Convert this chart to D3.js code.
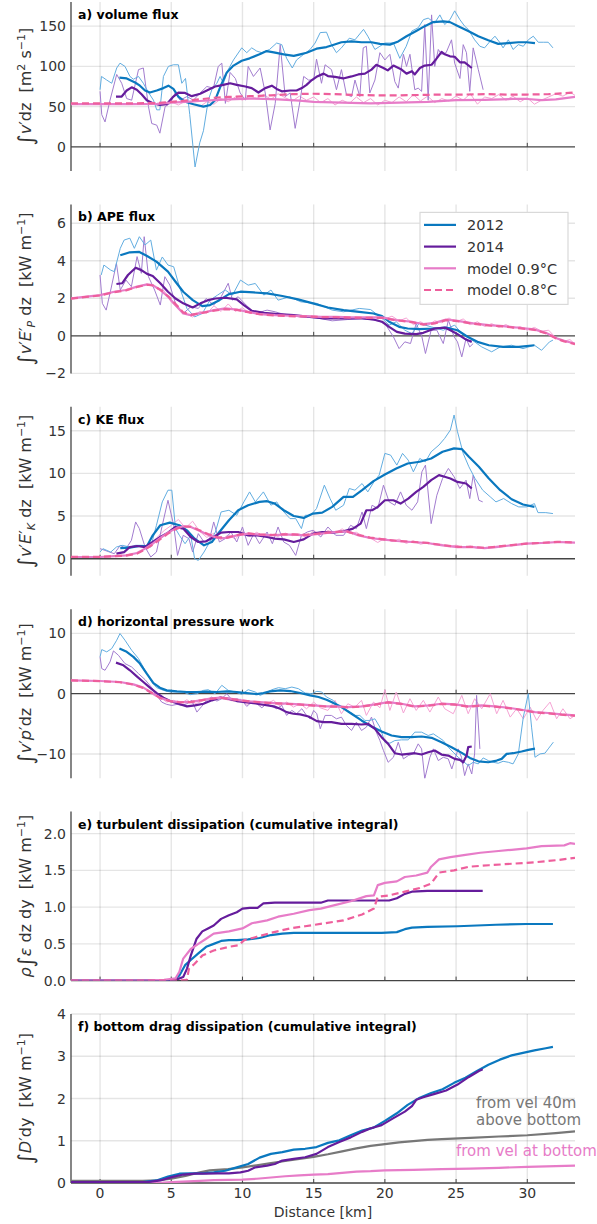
<!DOCTYPE html>
<html>
<head>
<meta charset="utf-8">
<script src="https://cdn.jsdelivr.net/npm/d3@7"></script>
<style>
  html, body { margin: 0; padding: 0; background: #fff; }
  svg { display: block; font-family: "DejaVu Sans", sans-serif; }
</style>
</head>
<body>
<div id="chart"></div>
<script>
// ---- data: [distance km, value] ----

// a) volume flux
var a2012 = [[1.36,86],[1.87,85],[2.46,80],[2.8,76],[3.16,70],[3.5,67.5],[3.98,70],[4.45,73],[4.8,76],[5.15,72],[5.5,62.5],[5.97,56],[6.56,53],[7.26,50],[7.73,52],[8.08,58],[8.43,74],[8.9,92.5],[9.37,101],[9.95,107],[10.5,110],[11.2,115],[11.7,119],[12.2,117.5],[12.9,115],[13.6,113],[14.05,115],[14.5,117],[15.2,122],[15.9,124],[16.25,126],[16.95,130],[17.66,131],[18.36,130],[19.06,130],[19.65,128],[20.35,127],[20.94,131],[21.52,137.5],[22.2,144],[22.8,150],[23.4,155],[24.1,156],[24.57,155],[25.15,150],[25.85,144],[26.56,137.5],[27.26,132.5],[27.96,128],[28.67,129],[29.37,130],[29.95,130],[30.54,129]];
var a2012raw = [[0,71],[0.1,87.5],[0.47,83],[0.82,79],[1.17,98],[1.4,104],[1.75,100],[2.1,87.5],[2.34,84],[2.7,87.5],[3.04,79],[3.4,67.5],[3.75,58],[3.98,46],[4.2,46],[4.45,87.5],[4.8,100],[5.15,102],[5.5,102],[5.74,79],[6.0,85],[6.3,40],[6.67,-25],[7.0,5],[7.26,20],[7.6,58],[7.85,71],[8.2,79],[8.43,87.5],[8.66,79],[9.0,96],[9.37,108],[9.95,123],[10.3,117],[10.65,123],[11,119],[11.36,117],[11.9,121],[12.4,129],[12.76,127],[13.1,110],[13.5,98],[13.8,108],[14.3,115],[14.75,121],[15.1,129],[15.46,142],[15.9,142.5],[16.25,127],[16.6,117],[16.95,123],[17.5,135],[17.9,133],[18.5,146],[18.8,137.5],[19.3,121],[19.65,125],[20,129],[20.6,129],[21.05,110],[21.5,125],[21.9,144],[22.34,148],[22.7,158],[23.04,160],[23.5,154],[23.86,164],[24.2,152],[24.57,158],[24.9,169],[25.27,158],[25.6,150],[25.85,146],[26.3,133],[26.67,125],[27,123],[27.38,131],[27.73,137.5],[28.1,129],[28.3,123],[28.67,133],[29,121],[29.37,127],[29.72,125],[30.07,133],[30.42,137.5],[30.77,130],[31.12,130],[31.47,130],[31.8,123]];
var a2014 = [[1.12,62.5],[1.52,62.5],[1.87,70],[2.22,74],[2.58,71],[2.93,65],[3.28,58],[3.75,54],[4.2,52],[4.68,53],[5.15,62.5],[5.5,67.5],[5.97,67],[6.44,63],[7.03,66],[7.5,70],[8.08,75],[8.66,77],[9.13,79],[9.6,77],[10.2,75],[10.65,73],[11.12,67.5],[11.6,73],[12.06,76],[12.4,72],[12.76,69],[13.35,70],[13.8,70],[14.17,73],[14.5,77],[14.87,83],[15.2,87],[15.7,91],[16.0,88],[16.5,87],[17.07,85],[17.66,87.5],[18.13,90],[18.6,91],[19.06,96],[19.4,102],[19.9,98],[20.2,95],[20.6,101],[21.17,96],[21.52,91],[21.9,94],[22.1,90],[22.46,98],[22.8,101],[23.28,102],[23.6,109],[23.98,118],[24.2,115],[24.57,112.5],[24.9,112],[25.27,105],[25.6,105],[26.1,98]];
var a2014raw = [[0,69],[0.12,40],[0.35,31],[0.7,58],[1.17,90],[1.52,79],[1.87,60],[2.22,58],[2.7,96],[3.04,98],[3.4,50],[3.63,29],[3.98,27],[4.2,17],[4.57,50],[4.92,54],[5.27,67],[5.62,58],[6.1,62.5],[6.56,58],[7.03,67],[7.5,75],[7.96,73],[8.3,100],[8.55,104],[8.8,54],[9.13,92.5],[9.5,85],[9.84,67],[10.2,58],[10.4,100],[10.77,87.5],[11.24,98],[11.6,67],[11.94,21],[12.3,54],[12.65,127],[13,62.5],[13.35,67],[13.7,23],[14.05,58],[14.3,87.5],[14.64,83],[15,83],[15.2,109],[15.55,79],[15.8,102],[16.25,96],[16.6,71],[16.95,96],[17.3,65],[17.66,62.5],[17.9,83],[18.24,62.5],[18.48,123],[18.7,125],[18.94,67],[19.3,83],[19.65,117],[20,108],[20.35,115],[20.7,81],[20.94,73],[21.3,115],[21.52,100],[21.76,115],[22.1,71],[22.34,73],[22.58,69],[22.8,152],[23.04,58],[23.28,164],[23.5,100],[23.75,121],[23.98,115],[24.3,117],[24.68,133],[24.9,104],[25.27,85],[25.5,127],[25.73,117],[25.96,69],[26.2,123],[26.56,96],[26.9,71]];
var aModel09 = [[-2.04,53],[0,53],[2,53],[4,53.5],[5,55],[6,56],[7,57],[8,58],[9,59],[10.5,60],[11.5,59.5],[12.5,59],[14,57.5],[15,56],[17,55],[19,54],[21,55],[23,56],[25,58],[27,58.5],[29,59.5],[30,59.5],[31,58],[32,59],[33.35,62]];
var aModel08 = [[-2.04,54],[0,54],[2,54],[4,54.5],[5,56],[6,57.5],[7,59],[8,61],[9,62],[10.5,63],[12,64],[13.5,65.5],[15,66],[16.5,65.5],[18,64.5],[19.5,64],[21,64],[22.5,64.5],[24,65],[25.5,65],[27,65.5],[28.5,65],[30,65],[31.5,65.5],[32.5,66.5],[33.35,67.5]];
var aModelRaw = [[4,53],[5,56],[5.5,52],[6,57],[6.5,54],[7,50],[7.5,56],[8,53],[8.5,60],[9,56],[9.5,62],[10,58],[10.5,63],[11,60],[11.5,65],[12,59],[12.5,66],[13,61],[13.5,57],[14,63],[14.5,58],[15,62],[15.5,55],[16,60],[16.5,52],[17,58],[17.5,54],[18,62],[18.5,55],[19,60],[19.5,52],[20,58],[20.5,55],[21,62],[21.5,56],[22,65],[22.5,57],[23,63],[23.5,55],[24,60],[24.5,57],[25,63],[25.5,58],[26,66],[26.5,53],[27,62],[27.5,60],[28,65],[28.5,58],[29,63],[29.5,56],[30,61],[30.5,53],[31,58],[31.5,62],[32,66],[32.5,63],[33,68],[33.35,64]];

// b) APE flux
var b2012 = [[1.42,4.29],[2.09,4.45],[2.76,4.47],[3.3,4.25],[3.96,3.95],[4.77,3.42],[5.3,2.88],[5.84,2.35],[6.51,1.9],[7.18,1.58],[7.72,1.64],[8.38,1.9],[9.05,2.22],[9.86,2.35],[10.8,2.31],[11.73,2.26],[12.8,2.12],[13.9,1.94],[14.95,1.73],[16.0,1.51],[17.1,1.37],[18.2,1.28],[19.2,1.19],[19.8,1.05],[20.3,0.75],[21.0,0.48],[21.6,0.39],[22.4,0.36],[23.5,0.39],[24.3,0.44],[25.1,0.3],[25.8,-0.05],[26.5,-0.32],[27.3,-0.5],[28.3,-0.59],[29.4,-0.59],[30.5,-0.5]];
var b2012raw = [[0.08,3.24],[0.27,3.77],[0.75,3.5],[1.0,3.42],[1.42,4.66],[1.69,5.1],[2.09,5.2],[2.41,4.66],[2.76,5.28],[3.16,4.84],[3.56,5.1],[3.96,3.5],[4.37,4.2],[4.77,3.77],[5.17,3.68],[5.57,2.62],[6.1,1.46],[6.64,1.01],[7.18,1.19],[7.72,1.9],[8.25,2.17],[8.79,2.44],[9.3,2.17],[9.86,2.97],[10.4,2.7],[10.9,2.79],[11.5,2.17],[12.0,2.44],[12.5,1.9],[13.3,2.08],[14.1,1.81],[15.2,1.73],[16.3,1.37],[17.1,1.28],[18.2,1.46],[19.0,1.4],[19.8,0.93],[20.3,0.57],[20.8,0.75],[21.4,0.3],[21.9,0.12],[22.4,0.66],[23.25,0.48],[24.1,0.3],[24.9,0.57],[25.4,0.12],[25.96,-0.14],[26.8,-0.59],[27.5,-0.85],[28.1,-0.59],[28.9,-0.5],[29.7,-0.68],[30.5,-0.5],[31.0,-0.77],[31.56,-0.32],[31.8,-0.23]];
var b2014 = [[1.15,2.76],[1.55,2.8],[1.96,3.24],[2.5,3.63],[2.9,3.5],[3.3,3.3],[3.7,3.19],[4.23,2.8],[4.77,2.35],[5.3,1.99],[5.84,1.73],[6.5,1.51],[7.05,1.73],[7.58,1.9],[8.1,1.99],[8.8,2.03],[9.6,1.94],[10.1,1.64],[10.66,1.33],[11.5,1.23],[12.5,1.16],[13.6,1.1],[14.7,1.01],[15.75,0.93],[17.1,0.93],[18.4,0.93],[19.2,0.87],[19.8,0.75],[20.3,0.48],[20.84,0.21],[21.4,0.12],[22.2,0.09],[22.7,0.16],[23.5,0.39],[24.2,0.44],[24.6,0.3],[25.1,0.09],[25.7,-0.2],[26.1,-0.32]];
var b2014raw = [[0,3.24],[0.16,1.73],[0.43,1.37],[0.75,2.44],[1.15,3.86],[1.42,2.44],[1.82,2.97],[2.2,2.62],[2.6,4.22],[2.9,3.33],[3.1,5.28],[3.4,3.15],[3.83,2.44],[4.23,1.64],[4.55,3.15],[4.9,2.7],[5.3,1.73],[5.84,1.19],[6.37,1.55],[6.9,1.46],[7.45,1.99],[7.98,1.64],[8.5,2.08],[9.0,2.8],[9.3,1.9],[9.7,2.08],[10.26,1.64],[10.9,1.19],[11.73,1.37],[12.3,1.28],[13.1,1.1],[14.1,1.01],[15.2,0.96],[16.3,0.8],[17.4,0.87],[18.4,0.93],[19.5,0.8],[20.0,0.66],[20.6,-0.05],[21.0,-0.68],[21.4,-0.32],[21.8,-0.41],[22.2,0.66],[22.6,-0.05],[22.85,-0.94],[23.25,0.3],[23.65,0.3],[24.1,-0.41],[24.46,0.84],[24.86,-0.05],[25.1,-0.32],[25.4,-1.12],[25.7,-0.14],[25.96,-0.59],[26.2,-0.41]];
var bModel09 = [[-2.04,1.99],[0,2.17],[1.0,2.35],[1.82,2.44],[2.6,2.62],[3.3,2.74],[3.7,2.7],[4.23,2.44],[4.77,2.08],[5.3,1.64],[5.84,1.19],[6.37,1.1],[7.18,1.23],[8.0,1.37],[8.8,1.46],[9.6,1.4],[10.4,1.28],[11.2,1.16],[12.3,1.1],[13.3,1.07],[14.4,1.05],[15.5,1.01],[16.6,1.01],[17.6,0.98],[18.7,0.98],[19.8,0.98],[20.8,0.84],[21.9,0.75],[22.7,0.62],[23.5,0.69],[24.3,0.87],[25.1,0.8],[26.2,0.66],[27.3,0.57],[28.3,0.52],[29.4,0.43],[30.5,0.34],[31.3,0.16],[32.1,-0.14],[32.6,-0.27],[33.35,-0.41]];
var bModel08 = [[-2.04,1.98],[0,2.15],[1.0,2.33],[1.82,2.42],[2.6,2.6],[3.3,2.72],[3.7,2.68],[4.23,2.46],[4.77,2.12],[5.3,1.7],[5.84,1.25],[6.37,1.12],[7.18,1.22],[8.0,1.34],[8.8,1.42],[9.6,1.38],[10.4,1.26],[11.2,1.15],[12.3,1.08],[13.3,1.05],[14.4,1.03],[15.5,1.0],[16.6,0.99],[17.6,0.97],[18.7,0.96],[19.8,0.95],[20.8,0.83],[21.9,0.73],[22.7,0.6],[23.5,0.66],[24.3,0.84],[25.1,0.78],[26.2,0.64],[27.3,0.55],[28.3,0.5],[29.4,0.41],[30.5,0.32],[31.3,0.14],[32.1,-0.16],[32.6,-0.3],[33.35,-0.44]];
var bModelRaw = [[4,2.5],[4.5,2.4],[5,1.8],[5.5,1.4],[6,1.2],[6.5,1.0],[7,1.3],[7.5,1.2],[8,1.6],[8.5,1.3],[9,1.7],[9.5,1.3],[10,1.5],[10.5,1.2],[11,1.3],[12,1.1],[13,1.15],[14,1.0],[15,1.05],[16,0.95],[17,1.0],[18,0.95],[19,1.0],[20,0.9],[20.5,1.05],[21,0.8],[21.5,0.95],[22,0.6],[22.5,0.75],[23,0.55],[23.5,0.8],[24,0.7],[24.5,0.95],[25,0.75],[25.5,0.9],[26,0.6],[26.5,0.75],[27,0.5],[27.5,0.65],[28,0.45],[28.5,0.6],[29,0.4],[29.5,0.5],[30,0.3],[30.5,0.45],[31,0.25],[31.5,0.3],[32,-0.1],[32.5,-0.3],[33,-0.2],[33.35,-0.45]];

// c) KE flux
var c2012 = [[1.42,1.25],[2.09,1.29],[2.76,1.49],[3.3,1.49],[3.7,2.74],[4.23,3.92],[4.9,4.23],[5.57,3.92],[6.1,3.33],[6.64,2.35],[7.3,1.57],[7.85,1.96],[8.38,3.13],[9.05,4.5],[9.7,5.68],[10.4,6.27],[11.2,6.66],[11.73,6.74],[12.27,6.46],[12.9,5.68],[13.6,5.01],[14.3,4.78],[14.95,5.29],[15.6,5.4],[16.3,6.07],[17.1,7.25],[17.76,7.25],[18.4,8.03],[19.2,9.09],[20.0,9.87],[20.8,10.58],[21.6,11.16],[22.45,11.36],[23.25,11.75],[24.05,12.53],[24.86,12.93],[25.4,12.85],[25.9,11.95],[26.6,10.77],[27.3,9.4],[28.1,8.03],[28.9,6.97],[29.7,6.35],[30.5,6.07]];
var c2012raw = [[0,0.78],[0.2,1.18],[0.75,0.78],[1.15,1.37],[1.55,1.57],[2.09,1.37],[2.5,1.57],[3.0,1.57],[3.56,1.37],[3.96,3.92],[4.37,6.66],[4.77,8.03],[5.04,8.03],[5.3,3.53],[5.57,2.74],[5.97,1.76],[6.37,2.74],[6.64,0],[6.9,-0.2],[7.3,0.78],[7.7,1.96],[8.1,3.13],[8.5,5.48],[9.05,5.68],[9.6,5.09],[10.1,6.66],[10.5,7.83],[10.9,6.66],[11.47,7.83],[12.0,6.27],[12.4,6.66],[12.8,5.68],[13.34,4.7],[13.74,4.7],[14.14,3.53],[14.4,5.09],[14.8,5.09],[15.2,5.88],[15.75,8.62],[16.15,7.05],[16.55,5.68],[17.1,6.27],[17.5,8.23],[17.9,8.03],[18.4,8.81],[18.8,7.83],[19.23,9.0],[19.6,9.8],[20.0,12.34],[20.4,12.14],[20.84,10.97],[21.24,12.34],[21.64,11.55],[22.0,10.18],[22.45,11.75],[22.85,11.36],[23.25,12.53],[23.8,13.32],[24.2,14.1],[24.6,15.08],[24.86,16.84],[25.1,14.88],[25.5,12.34],[25.9,10.77],[26.33,9.4],[26.87,8.03],[27.4,7.25],[27.8,6.66],[28.34,7.05],[28.9,6.46],[29.4,6.07],[29.95,6.07],[30.5,6.46],[30.75,5.4],[31.3,5.4],[31.8,5.29]];
var c2014 = [[1.15,0.59],[1.69,0.78],[2.09,1.37],[2.6,1.49],[3.16,1.37],[3.7,1.96],[4.23,2.55],[4.77,3.06],[5.3,3.72],[5.84,3.53],[6.37,2.55],[6.9,1.96],[7.45,2.04],[7.98,2.55],[8.5,3.06],[9.05,3.13],[9.7,3.13],[10.4,2.74],[11.06,2.74],[11.73,2.55],[12.27,2.35],[12.9,2.27],[13.6,1.96],[14.3,2.27],[14.95,2.94],[15.6,3.13],[16.3,3.06],[17.1,3.21],[17.76,3.53],[18.3,4.11],[18.7,5.68],[19.1,5.68],[19.5,6.07],[20.0,6.85],[20.6,6.85],[21.1,6.46],[21.64,7.05],[22.2,7.83],[22.7,8.42],[23.25,9.2],[23.8,9.8],[24.2,9.6],[24.6,9.4],[25.1,9.0],[25.7,8.81],[26.1,8.23]];
var c2014raw = [[0,1.18],[1.0,0.59],[1.42,1.57],[1.82,1.18],[2.2,2.15],[2.5,4.31],[2.76,3.53],[3.16,1.37],[3.56,0.2],[3.96,0.78],[4.37,3.92],[4.77,6.85],[5.17,3.92],[5.44,0.39],[5.84,2.74],[6.24,2.35],[6.5,0.78],[6.9,2.94],[7.3,1.96],[7.7,2.35],[7.98,4.31],[8.38,1.96],[8.79,2.35],[9.19,3.13],[9.6,1.96],[10.0,3.72],[10.4,1.57],[10.8,2.94],[11.2,1.76],[11.73,3.13],[12.1,1.76],[12.5,3.72],[12.9,1.96],[13.3,1.57],[13.74,0.39],[14.14,2.74],[14.55,3.13],[14.95,3.33],[15.5,2.55],[16.0,3.72],[16.55,2.74],[17.1,2.74],[17.6,3.92],[18.0,3.53],[18.4,5.48],[18.7,3.53],[19.1,6.27],[19.5,5.88],[19.9,8.62],[20.3,6.66],[20.7,6.27],[21.1,7.83],[21.5,6.27],[21.9,5.68],[22.3,6.66],[22.6,10.18],[22.85,10.97],[23.25,4.11],[23.65,7.44],[24.05,9.4],[24.46,10.58],[24.86,9.6],[25.26,8.23],[25.7,9.2],[25.96,7.05],[26.2,9.8],[26.6,6.85],[26.87,6.66]];
var cModel09 = [[-2.04,0.2],[0,0.2],[1.0,0.31],[1.82,0.39],[2.6,0.67],[3.16,1.18],[3.7,1.76],[4.23,2.43],[4.77,3.06],[5.3,3.53],[5.84,3.8],[6.37,3.72],[6.9,3.33],[7.58,2.82],[8.25,2.43],[8.92,2.43],[9.6,2.74],[10.4,2.94],[11.2,2.82],[12.0,2.74],[12.8,2.82],[13.6,2.82],[14.4,2.74],[15.5,2.94],[16.55,3.13],[17.36,3.21],[18.16,2.74],[18.97,2.43],[19.77,2.27],[20.84,2.08],[21.9,1.96],[22.98,1.84],[24.05,1.57],[25.1,1.37],[26.2,1.37],[27.0,1.25],[27.8,1.37],[28.9,1.57],[29.95,1.76],[31.0,1.84],[32.1,1.96],[33.35,1.88]];
var cModel08 = [[-2.04,0.22],[0,0.22],[1.0,0.3],[1.82,0.36],[2.6,0.6],[3.16,1.08],[3.7,1.65],[4.23,2.3],[4.77,2.95],[5.3,3.45],[5.84,3.78],[6.37,3.75],[6.9,3.4],[7.58,2.9],[8.25,2.5],[8.92,2.48],[9.6,2.78],[10.4,2.96],[11.2,2.85],[12.0,2.78],[12.8,2.85],[13.6,2.86],[14.4,2.8],[15.5,2.98],[16.55,3.15],[17.36,3.18],[18.16,2.78],[18.97,2.47],[19.77,2.3],[20.84,2.1],[21.9,1.98],[22.98,1.86],[24.05,1.6],[25.1,1.4],[26.2,1.38],[27.0,1.28],[27.8,1.4],[28.9,1.6],[29.95,1.78],[31.0,1.86],[32.1,1.98],[33.35,1.9]];
var cModelRaw = [[3,1.1],[3.5,1.6],[4,2.5],[4.5,3.3],[5,3.9],[5.5,4.6],[6,3.6],[6.5,4.4],[7,3.2],[7.5,2.5],[8,3.0],[8.5,2.2],[9,2.8],[9.5,2.3],[10,3.2],[10.5,2.6],[11,3.1],[11.5,2.6],[12,2.9],[12.5,2.6],[13,3.0],[13.5,2.7],[14,2.9],[14.5,2.5],[15,3.3],[15.5,2.8],[16,3.3],[16.5,3.0],[17,3.5],[17.5,3.0],[18,3.1],[18.5,2.6],[19,2.4],[19.5,1.9],[20,2.4],[20.5,2.0],[21,2.3],[21.5,1.8],[22,2.1],[22.5,1.7],[23,1.9],[23.5,1.6],[24,1.7],[24.5,1.4],[25,1.6],[25.5,1.3],[26,1.5],[26.5,1.2],[27,1.3],[28,1.5],[29,1.6],[30,1.8],[31,1.8],[32,1.9],[33,2.0]];

// d) horizontal pressure work
var d2012 = [[1.36,7.48],[1.87,6.93],[2.34,6.1],[2.8,4.99],[3.28,3.32],[3.75,1.77],[4.2,1.0],[4.68,0.55],[5.4,0.39],[6.1,0.28],[6.8,0.28],[7.5,0.33],[8.2,0.28],[8.9,0.39],[9.6,0.28],[10.3,0.11],[11.0,-0.06],[11.47,0.11],[11.94,0.39],[12.65,0.55],[13.35,0.44],[14.05,0.11],[14.75,-0.28],[15.34,-0.55],[15.9,-1.0],[16.25,-1.39],[16.95,-2.22],[17.66,-3.32],[18.36,-4.43],[19.06,-5.43],[19.77,-6.26],[20.47,-6.93],[21.17,-7.2],[21.87,-7.2],[22.58,-7.09],[23.28,-7.31],[23.98,-8.03],[24.68,-8.86],[25.4,-9.81],[25.97,-10.64],[26.56,-11.2],[27.26,-11.36],[27.85,-11.08],[28.2,-10.8],[28.55,-9.97],[29.0,-9.86],[29.6,-9.58],[30.07,-9.31],[30.54,-9.09]];
var d2012raw = [[0,6.1],[0.12,7.31],[0.47,6.93],[0.82,7.48],[1.17,8.86],[1.4,9.97],[1.75,8.86],[2.22,7.2],[2.7,5.82],[3.16,3.88],[3.63,1.94],[3.98,1.0],[4.45,0.55],[4.92,0.28],[5.4,0.28],[5.85,0.28],[6.32,-0.17],[6.8,0],[7.26,0.55],[7.6,0.66],[8.08,0],[8.55,1.39],[9.0,0.55],[9.5,0.28],[9.95,-0.11],[10.4,0.66],[10.9,0.28],[11.24,-0.28],[11.6,0.11],[12.06,0.66],[12.53,1.0],[13.0,0.83],[13.47,1.1],[13.93,0.83],[14.4,0.11],[14.87,0],[15.22,0.39],[15.57,0.28],[15.9,-0.55],[16.37,-1.1],[16.84,-2.22],[17.2,-2.5],[17.54,-3.05],[17.9,-3.6],[18.24,-3.6],[18.6,-4.43],[18.95,-4.43],[19.3,-4.16],[19.65,-5.54],[20.0,-8.03],[20.35,-8.2],[20.7,-7.76],[21.17,-7.65],[21.64,-7.65],[22.1,-6.37],[22.58,-6.37],[23.04,-6.93],[23.4,-6.65],[23.75,-7.2],[24.1,-7.76],[24.45,-8.86],[24.8,-9.7],[25.15,-10.53],[25.5,-11.2],[25.85,-11.91],[26.2,-11.36],[26.56,-11.63],[26.9,-10.64],[27.26,-11.08],[27.6,-11.36],[27.96,-11.52],[28.3,-11.2],[28.67,-11.36],[29.0,-11.63],[29.37,-9.97],[29.72,-3.88],[30.07,0],[30.3,-5.54],[30.54,-10.53],[30.9,-9.97],[31.24,-9.86],[31.47,-9.14],[31.83,-8.03]];
var d2014 = [[1.12,5.15],[1.64,4.71],[2.1,3.88],[2.58,2.88],[3.04,1.94],[3.5,1.0],[3.98,0.11],[4.45,-0.66],[4.92,-1.22],[5.5,-1.66],[6.1,-2.1],[6.67,-1.94],[7.26,-1.66],[7.85,-1.1],[8.43,-0.66],[9.0,-0.83],[9.6,-1.22],[10.2,-1.39],[10.77,-1.55],[11.47,-1.83],[12.2,-2.1],[12.65,-2.49],[13.1,-3.05],[13.58,-3.32],[14.05,-3.43],[14.64,-3.77],[15.22,-4.54],[15.7,-4.71],[16.25,-4.71],[16.95,-4.99],[17.66,-4.99],[18.36,-5.1],[18.83,-4.99],[19.3,-5.82],[19.77,-7.2],[20.23,-8.31],[20.7,-9.86],[21.17,-10.08],[21.64,-9.97],[22.1,-9.86],[22.58,-10.08],[23.04,-9.7],[23.5,-9.42],[23.98,-10.08],[24.45,-10.25],[24.9,-10.8],[25.27,-10.97],[25.5,-11.36],[25.74,-10.25],[25.85,-8.86],[26.1,-8.75]];
var d2014raw = [[0,6.1],[0.12,4.16],[0.35,3.88],[0.7,5.26],[0.94,7.09],[1.29,6.37],[1.75,4.99],[2.22,4.43],[2.7,3.32],[3.16,2.33],[3.63,1.0],[3.98,-0.28],[4.33,-1.39],[4.68,-1.77],[5.04,-1.94],[5.4,-1.77],[5.74,-1.94],[6.1,-1.66],[6.44,-1.1],[6.8,-3.05],[7.14,-2.1],[7.5,-1.1],[7.85,-0.55],[8.2,-1.22],[8.55,-0.83],[8.9,0],[9.25,-1.0],[9.6,-0.83],[9.95,-1.1],[10.3,-2.1],[10.65,-1.39],[11.0,-1.66],[11.36,-2.33],[11.7,-1.66],[12.06,-2.1],[12.4,-2.49],[12.76,-1.94],[13.1,-3.6],[13.47,-2.77],[13.8,-3.32],[14.17,-2.49],[14.5,-3.6],[14.75,-4.16],[15.0,-2.77],[15.22,-3.32],[15.46,-5.82],[15.8,-3.6],[16.25,-3.6],[16.6,-4.16],[16.95,-3.88],[17.3,-5.26],[17.66,-6.09],[18.0,-4.71],[18.36,-6.09],[18.7,-5.54],[19.06,-3.88],[19.4,-6.37],[19.65,-7.76],[19.9,-9.42],[20.23,-11.36],[20.6,-10.53],[20.94,-8.03],[21.3,-10.8],[21.64,-10.25],[22.0,-9.97],[22.34,-8.31],[22.58,-9.14],[22.8,-14.1],[23.16,-10.53],[23.4,-9.14],[23.75,-11.08],[24.1,-10.53],[24.45,-10.8],[24.7,-12.47],[24.92,-10.8],[25.15,-9.14],[25.38,-10.53],[25.6,-13.57],[25.85,-11.63],[26.1,-13.3],[26.3,-9.97],[26.44,-0.28],[26.67,-9.14]];
var dModel09 = [[-2.04,2.22],[0,2.1],[1.4,1.94],[2.34,1.55],[3.04,1.0],[3.75,0],[4.2,-0.66],[4.92,-1.22],[5.62,-1.39],[6.32,-1.39],[7.03,-1.1],[7.73,-0.83],[8.43,-0.66],[9.13,-0.83],[9.84,-1.1],[10.54,-1.27],[11.24,-1.39],[12.18,-1.55],[13.1,-1.66],[14.05,-1.77],[15.0,-1.94],[15.9,-2.1],[16.5,-2.1],[17.4,-2.22],[18.36,-2.1],[19.3,-1.77],[20.23,-1.39],[21.17,-1.66],[22.1,-2.1],[23.04,-1.94],[23.98,-1.66],[24.92,-1.77],[25.85,-2.1],[26.8,-1.94],[27.73,-2.1],[28.67,-2.33],[29.6,-2.66],[30.54,-3.05],[31.47,-3.2],[32.4,-3.43],[33.35,-3.6]];
var dModel08 = [[-2.04,2.2],[0,2.08],[1.4,1.9],[2.34,1.5],[3.04,0.95],[3.75,-0.05],[4.2,-0.7],[4.92,-1.25],[5.62,-1.42],[6.32,-1.4],[7.03,-1.12],[7.73,-0.86],[8.43,-0.7],[9.13,-0.86],[9.84,-1.12],[10.54,-1.3],[11.24,-1.42],[12.18,-1.58],[13.1,-1.7],[14.05,-1.8],[15.0,-1.97],[15.9,-2.12],[16.5,-2.14],[17.4,-2.25],[18.36,-2.14],[19.3,-1.82],[20.23,-1.45],[21.17,-1.7],[22.1,-2.15],[23.04,-2.0],[23.98,-1.7],[24.92,-1.82],[25.85,-2.15],[26.8,-1.98],[27.73,-2.15],[28.67,-2.38],[29.6,-2.7],[30.54,-3.1],[31.47,-3.25],[32.4,-3.48],[33.35,-3.65]];
var dModelRaw = [[3.75,-0.28],[4.2,-0.55],[4.68,-1.39],[5.15,-1.1],[5.62,-1.66],[6.1,-1.0],[6.56,-1.77],[7.03,-1.39],[7.5,-0.83],[7.96,-1.1],[8.43,-0.44],[8.9,-1.0],[9.37,-1.22],[9.84,-0.89],[10.3,-1.77],[10.77,-1.39],[11.24,-1.94],[11.7,-1.66],[12.18,-1.1],[12.65,-2.1],[13.1,-1.39],[13.58,-2.22],[14.05,-1.66],[14.5,-2.49],[15.0,-1.39],[15.46,-2.33],[16.0,-2.77],[16.5,-1.1],[16.95,-3.32],[17.4,-1.66],[17.9,-2.22],[18.36,-1.1],[18.7,-3.6],[19.2,-1.39],[19.65,-2.33],[20.0,0.66],[20.35,-2.77],[20.8,0.28],[21.3,-3.2],[21.76,-0.83],[22.2,-2.77],[22.7,-1.1],[23.16,-3.05],[23.75,-0.55],[24.2,-2.49],[24.8,-3.32],[25.4,-0.28],[25.85,-3.32],[26.3,-0.83],[26.8,-2.49],[27.4,0],[27.85,-3.32],[28.3,-1.1],[28.8,-3.88],[29.25,-2.49],[29.72,-4.16],[30.2,-2.22],[30.66,-4.43],[31.1,-2.77],[31.6,-1.39],[32.06,-4.16],[32.5,-2.49],[33.0,-4.16],[33.35,-3.6]];

// e) turbulent dissipation (cumulative)
var e2012 = [[-2.04,0],[3,0],[5.2,0.01],[5.57,0.07],[5.97,0.21],[6.37,0.28],[6.9,0.37],[7.45,0.46],[7.98,0.5],[8.5,0.54],[9.05,0.55],[9.6,0.55],[10.4,0.56],[11.2,0.58],[12.0,0.62],[12.8,0.64],[13.6,0.65],[14.95,0.65],[17.1,0.65],[19.77,0.65],[20.84,0.66],[21.4,0.7],[21.9,0.72],[22.98,0.73],[25.1,0.74],[27.8,0.76],[29.95,0.77],[31.8,0.77]];
var e2014 = [[-2.04,0],[3,0],[5.0,0.01],[5.44,0.02],[5.84,0.05],[6.1,0.16],[6.37,0.34],[6.78,0.57],[7.18,0.67],[7.58,0.71],[7.98,0.75],[8.5,0.84],[9.05,0.89],[9.6,0.93],[10.0,0.98],[10.5,0.99],[11.06,0.99],[11.47,1.05],[12.27,1.06],[13.34,1.06],[14.4,1.06],[15.5,1.06],[16.0,1.09],[17.1,1.09],[18.16,1.09],[19.23,1.09],[20.3,1.09],[20.84,1.12],[21.4,1.18],[21.9,1.21],[22.98,1.22],[24.05,1.22],[25.1,1.22],[26.87,1.22]];
var eModel09 = [[-2.04,0],[3,0],[4.5,0.01],[5.3,0.03],[5.57,0.12],[5.84,0.3],[6.37,0.43],[6.9,0.5],[7.45,0.57],[7.98,0.64],[9.05,0.67],[10.0,0.71],[10.66,0.78],[11.73,0.82],[12.5,0.87],[13.6,0.91],[14.7,0.96],[15.5,0.98],[16.55,1.03],[17.6,1.08],[18.7,1.15],[19.23,1.16],[19.5,1.3],[20.0,1.33],[20.84,1.35],[21.4,1.41],[22.2,1.43],[22.98,1.47],[23.25,1.55],[23.8,1.65],[24.6,1.68],[25.66,1.71],[26.7,1.74],[27.8,1.76],[28.9,1.78],[29.95,1.8],[31.0,1.83],[32.6,1.84],[33.0,1.87],[33.35,1.86]];
var eModel08 = [[-2.04,0],[3,0],[5.5,0],[6.1,0.01],[6.24,0.16],[6.64,0.23],[7.18,0.34],[7.98,0.41],[9.05,0.46],[9.7,0.48],[10.13,0.55],[10.9,0.59],[12.0,0.65],[13.34,0.71],[14.4,0.74],[15.75,0.78],[17.1,0.82],[18.4,0.9],[19.23,0.98],[19.5,1.14],[20.3,1.16],[21.4,1.21],[22.45,1.26],[23.25,1.32],[23.8,1.47],[24.86,1.5],[25.9,1.55],[27.3,1.57],[28.9,1.59],[30.5,1.61],[32.1,1.64],[33.35,1.67]];

// f) bottom drag dissipation (cumulative)
var f2012 = [[-2.04,0.02],[3.0,0.02],[3.96,0.06],[4.77,0.15],[5.57,0.22],[6.37,0.23],[7.18,0.23],[7.98,0.25],[8.79,0.29],[9.6,0.37],[10.4,0.45],[11.2,0.6],[12.0,0.69],[12.8,0.73],[13.6,0.79],[14.4,0.81],[15.2,0.85],[16.0,0.95],[16.8,1.01],[17.6,1.13],[18.4,1.24],[19.2,1.31],[20.0,1.47],[20.84,1.65],[21.6,1.85],[22.45,2.02],[23.25,2.13],[24.05,2.22],[24.86,2.37],[25.66,2.49],[26.47,2.65],[27.27,2.8],[28.07,2.92],[28.9,3.02],[29.7,3.08],[30.5,3.14],[31.3,3.19],[31.8,3.22]];
var f2014 = [[-2.04,0.02],[3.3,0.02],[4.23,0.06],[5.04,0.14],[5.84,0.2],[6.64,0.22],[7.45,0.22],[8.25,0.23],[9.05,0.23],[9.86,0.25],[10.4,0.29],[10.9,0.37],[11.73,0.41],[12.27,0.45],[12.8,0.53],[13.6,0.57],[14.4,0.61],[15.2,0.69],[16.0,0.85],[16.8,0.97],[17.6,1.08],[18.4,1.21],[18.97,1.29],[19.77,1.37],[20.57,1.53],[21.4,1.69],[21.9,1.82],[22.2,1.97],[22.7,2.03],[23.5,2.11],[24.3,2.19],[25.1,2.33],[25.9,2.51],[26.6,2.65],[26.87,2.69]];
var f40m = [[-2.04,0.05],[3,0.05],[4,0.06],[5,0.1],[6,0.17],[7,0.25],[7.7,0.3],[9,0.33],[10,0.37],[11,0.42],[12,0.47],[13,0.52],[14,0.57],[15,0.62],[16,0.68],[17,0.75],[18,0.82],[19,0.88],[20,0.92],[21,0.96],[22,0.99],[23,1.02],[24,1.04],[26,1.07],[28,1.1],[30,1.13],[32,1.18],[33.35,1.22]];
var fBottom = [[-2.04,0],[4,0],[5,0.02],[7,0.05],[8,0.07],[10,0.08],[11,0.1],[12,0.13],[13,0.16],[14,0.18],[15,0.2],[16,0.21],[17,0.24],[18,0.27],[19,0.28],[20,0.3],[22,0.31],[24,0.33],[26,0.34],[28,0.36],[30,0.38],[32,0.4],[33.35,0.41]];

var xTicks = [0, 5, 10, 15, 20, 25, 30];
var legendNames = ['2012', '2014', 'model 0.9°C', 'model 0.8°C'];

// ---- style ----
var col = {
  y2012: '#0a78bf', y2012raw: '#62ade0',
  y2014: '#651c9c', y2014raw: '#a27ccf',
  m09: '#e77cc8', m08: '#ee5f9c', mraw: '#f5a3d4',
  gray: '#777777'
};

var width = 597, height = 1224,
    left = 71, right = 575,
    panelH = 169, panelStep = 202.4, firstTop = 2;

var svg = d3.select('#chart').append('svg')
    .attr('width', width).attr('height', height);

var x = d3.scaleLinear().domain([-2.04, 33.35]).range([left, right]);

var fmtInt = d3.format('d'), fmt1 = d3.format('.1f');

var panels = [
  {title: 'a) volume flux', domain: [-30, 180], ticks: [0, 50, 100, 150], fmt: fmtInt,
   label: [['∫','int'],['v','i'],['′dz  [m',''],['2','sup'],[' s',''],['−1','sup'],[']','']],
   raw: [[aModelRaw, col.mraw], [a2014raw, col.y2014raw], [a2012raw, col.y2012raw]],
   main: [[a2012, col.y2012], [a2014, col.y2014], [aModel09, col.m09], [aModel08, col.m08, true]]},
  {title: 'b) APE flux', domain: [-2, 7], ticks: [-2, 0, 2, 4, 6], fmt: fmtInt,
   label: [['∫','int'],['v','i'],['′',''],['E','i'],['′',''],['P','i sub'],[' dz  [kW m',''],['−1','sup'],[']','']],
   raw: [[bModelRaw, col.mraw], [b2014raw, col.y2014raw], [b2012raw, col.y2012raw]],
   main: [[b2012, col.y2012], [b2014, col.y2014], [bModel09, col.m09], [bModel08, col.m08, true]],
   legend: true},
  {title: 'c) KE flux', domain: [-2, 17.8], ticks: [0, 5, 10, 15], fmt: fmtInt,
   label: [['∫','int'],['v','i'],['′',''],['E','i'],['′',''],['K','i sub'],[' dz  [kW m',''],['−1','sup'],[']','']],
   raw: [[cModelRaw, col.mraw], [c2014raw, col.y2014raw], [c2012raw, col.y2012raw]],
   main: [[c2012, col.y2012], [c2014, col.y2014], [cModel09, col.m09], [cModel08, col.m08, true]]},
  {title: 'd) horizontal pressure work', domain: [-14, 14], ticks: [-10, 0, 10], fmt: fmtInt,
   label: [['∫','int'],['v','i'],['′',''],['p','i'],['′dz  [kW m',''],['−1','sup'],[']','']],
   raw: [[dModelRaw, col.mraw], [d2014raw, col.y2014raw], [d2012raw, col.y2012raw]],
   main: [[d2012, col.y2012], [d2014, col.y2014], [dModel09, col.m09], [dModel08, col.m08, true]]},
  {title: 'e) turbulent dissipation (cumulative integral)', domain: [0, 2.3], ticks: [0, 0.5, 1, 1.5, 2], fmt: fmt1,
   label: [['ρ','i'],['∫','int'],['ε','i'],[' dz dy  [kW m',''],['−1','sup'],[']','']],
   raw: [],
   main: [[e2012, col.y2012], [e2014, col.y2014], [eModel09, col.m09], [eModel08, col.m08, true]]},
  {title: 'f) bottom drag dissipation (cumulative integral)', domain: [0, 4], ticks: [0, 1, 2, 3, 4], fmt: fmtInt,
   label: [['∫','int'],['D','i'],['′dy  [kW m',''],['−1','sup'],[']','']],
   raw: [],
   main: [[fBottom, col.m09], [f40m, col.gray], [f2012, col.y2012], [f2014, col.y2014]],
   xaxis: true}
];

panels.forEach(function(p, i) {
  var top = firstTop + i * panelStep, bottom = top + panelH;
  var y = d3.scaleLinear().domain(p.domain).range([bottom, top]);
  var g = svg.append('g');

  g.append('defs').append('clipPath').attr('id', 'clip' + i)
    .append('rect').attr('x', left).attr('y', top).attr('width', right - left).attr('height', panelH);

  // grid
  g.selectAll('.vgrid').data(xTicks).enter().append('line')
    .attr('x1', d => x(d)).attr('x2', d => x(d)).attr('y1', top).attr('y2', bottom)
    .attr('stroke', '#000').attr('stroke-opacity', 0.1).attr('stroke-width', 1.4);
  g.selectAll('.hgrid').data(p.ticks.filter(d => d !== 0)).enter().append('line')
    .attr('x1', left).attr('x2', right).attr('y1', d => y(d)).attr('y2', d => y(d))
    .attr('stroke', '#000').attr('stroke-opacity', 0.1).attr('stroke-width', 1.4);

  // zero line with little ticks, and left spine
  g.append('line').attr('x1', left).attr('x2', right).attr('y1', y(0)).attr('y2', y(0))
    .attr('stroke', '#444').attr('stroke-width', 1.3);
  g.selectAll('.zt').data(xTicks).enter().append('line')
    .attr('x1', d => x(d)).attr('x2', d => x(d)).attr('y1', y(0)).attr('y2', y(0) - 4)
    .attr('stroke', '#444').attr('stroke-width', 1);
  g.append('line').attr('x1', left).attr('x2', left).attr('y1', top).attr('y2', bottom)
    .attr('stroke', '#444').attr('stroke-width', 1.3);

  // y tick labels
  g.selectAll('.yt').data(p.ticks).enter().append('text')
    .attr('x', left - 5).attr('y', d => y(d)).attr('dy', '0.36em')
    .attr('text-anchor', 'end').attr('fill', '#333').style('font-size', '14px')
    .text(d => p.fmt(d));

  // lines
  var line = d3.line().x(d => x(d[0])).y(d => y(d[1]));
  var lines = g.append('g').attr('clip-path', 'url(#clip' + i + ')');
  p.raw.forEach(function(s) {
    lines.append('path').attr('d', line(s[0])).attr('fill', 'none')
      .attr('stroke', s[1]).attr('stroke-width', 1).attr('stroke-linejoin', 'round');
  });
  p.main.forEach(function(s) {
    lines.append('path').attr('d', line(s[0])).attr('fill', 'none')
      .attr('stroke', s[1]).attr('stroke-width', 2.2).attr('stroke-linejoin', 'round')
      .attr('stroke-dasharray', s[2] ? '7,4' : null);
  });

  // title
  g.append('text').attr('x', 78).attr('y', top + 17)
    .style('font-size', '12.5px').style('font-weight', 'bold').attr('fill', '#000')
    .text(p.title);

  // y label
  yLabel(g, p.label, 31, (top + bottom) / 2);

  if (p.legend) drawLegend(g, top);

  if (p.xaxis) {
    g.selectAll('.xt').data(xTicks).enter().append('text')
      .attr('x', d => x(d)).attr('y', bottom + 15).attr('text-anchor', 'middle')
      .attr('fill', '#333').style('font-size', '14px').text(d => d);
    g.append('text').attr('x', (left + right) / 2).attr('y', bottom + 34)
      .attr('text-anchor', 'middle').attr('fill', '#333').style('font-size', '14px')
      .text('Distance [km]');

    g.append('text').attr('x', 476).attr('y', y(1.78)).attr('fill', col.gray)
      .style('font-size', '15px').text('from vel 40m');
    g.append('text').attr('x', 476).attr('y', y(1.38)).attr('fill', col.gray)
      .style('font-size', '15px').text('above bottom');
    g.append('text').attr('x', 456).attr('y', y(0.63)).attr('fill', col.m09)
      .style('font-size', '15px').text('from vel at bottom');
  }
});

function yLabel(g, parts, cx, cy) {
  var t = g.append('text')
    .attr('transform', 'translate(' + cx + ',' + cy + ') rotate(-90)')
    .attr('text-anchor', 'middle').attr('fill', '#333')
    .style('font-size', '16px').style('white-space', 'pre');
  var shift = 0;
  parts.forEach(function(pt) {
    var k = pt[1], ts = t.append('tspan').text(pt[0]);
    var target = k.indexOf('sup') >= 0 ? -6.5 : k.indexOf('sub') >= 0 ? 4 : k === 'int' ? 2 : 0;
    if (target !== shift) { ts.attr('dy', target - shift); shift = target; }
    if (k === 'sup' || k.indexOf('sub') >= 0) ts.style('font-size', '11px');
    if (k === 'int') ts.style('font-size', '21px');
    if (k.indexOf('i') === 0 && k !== 'int') ts.style('font-style', 'italic');
  });
}

function drawLegend(g, top) {
  var lx = 420, ly = top + 8, lw = 148, lh = 92;
  g.append('rect').attr('x', lx).attr('y', ly).attr('width', lw).attr('height', lh)
    .attr('fill', '#fff').attr('stroke', '#d9d9d9').attr('stroke-width', 1.2);
  var sty = [[col.y2012, false], [col.y2014, false], [col.m09, false], [col.m08, true]];
  legendNames.forEach(function(name, k) {
    var yy = ly + 12.5 + k * 21.7;
    g.append('line').attr('x1', lx + 4).attr('x2', lx + 36).attr('y1', yy).attr('y2', yy)
      .attr('stroke', sty[k][0]).attr('stroke-width', 2.2)
      .attr('stroke-dasharray', sty[k][1] ? '7,4' : null);
    g.append('text').attr('x', lx + 47).attr('y', yy).attr('dy', '0.36em')
      .attr('fill', '#333').style('font-size', '14.5px').text(name);
  });
}
</script>
</body>
</html>
